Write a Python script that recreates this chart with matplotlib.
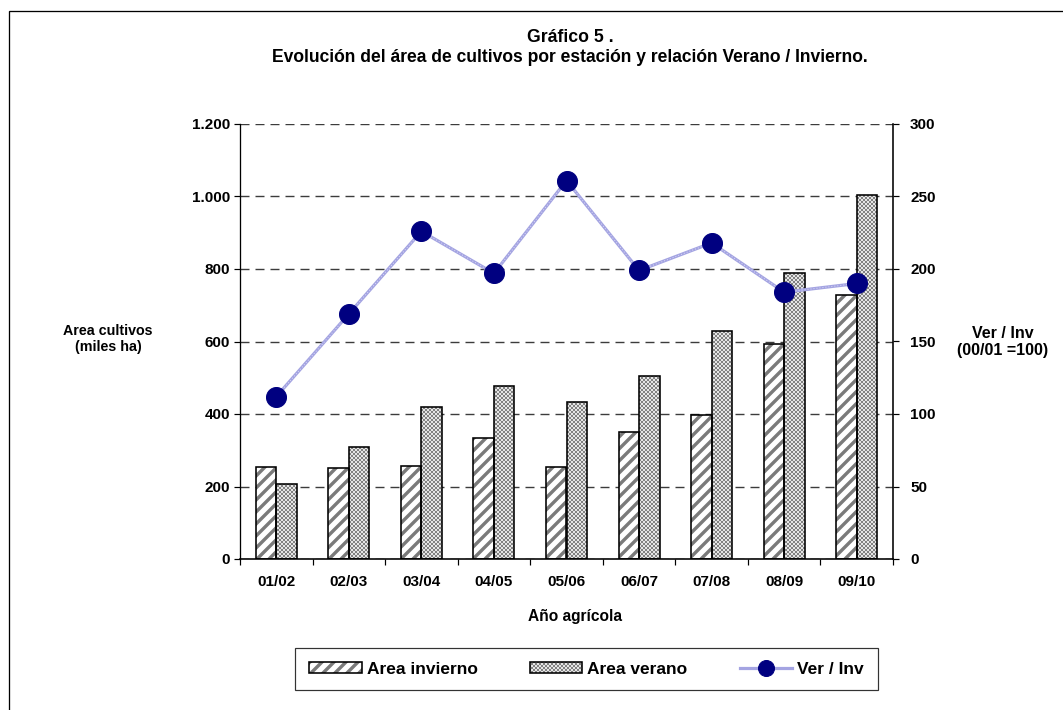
import matplotlib
matplotlib.use("Agg")
import matplotlib.pyplot as plt
from matplotlib.patches import Rectangle
from matplotlib.lines import Line2D
from matplotlib.legend_handler import HandlerTuple
from matplotlib.ticker import FuncFormatter, FixedLocator
import numpy as np

# dpi 72 -> 1 pt == 1 px, so every size below is given in pixels
DPI = 72
plt.rcParams['font.family'] = ['Liberation Sans', 'DejaVu Sans']
plt.rcParams['font.weight'] = 'bold'
plt.rcParams['lines.scale_dashes'] = False

categories = ["01/02", "02/03", "03/04", "04/05", "05/06", "06/07", "07/08", "08/09", "09/10"]
area_invierno = [253, 252, 257, 334, 255, 351, 398, 592, 728]
area_verano = [206, 308, 420, 476, 432, 506, 629, 788, 1005]
ver_inv = [112, 169, 226, 197, 261, 199, 218, 184, 190]

W, H = 1063, 710
fig = plt.figure(figsize=(W / DPI, H / DPI), dpi=DPI)

# outer border (right/bottom run off the image)
fig.patches.append(Rectangle((9 / W, -0.05), 1.1, 1 - 11 / H + 0.05, transform=fig.transFigure,
                             fill=False, edgecolor='black', linewidth=1.3))

ax = fig.add_axes([240 / W, 1 - 559 / H, (893 - 240) / W, (559 - 124) / H])
x = np.arange(len(categories))
bw = 0.283

STRIPE = '#7a7a7a'
CROSS = '#828282'
STRIPE_LW = 3.4
CROSS_LW = 0.9


def hatched_bars(xpos, vals, hatch, hcol, hlw):
    plt.rcParams['hatch.linewidth'] = hlw
    fill = ax.bar(xpos, vals, bw, facecolor='white', edgecolor=hcol, hatch=hatch, linewidth=0, zorder=2)
    for p in fill:
        if hasattr(p, 'set_hatch_linewidth'):
            p.set_hatch_linewidth(hlw)
    outline = ax.bar(xpos, vals, bw, facecolor='none', edgecolor='black', linewidth=1.6, zorder=3)
    return fill, outline


inv_fill, inv_out = hatched_bars(x - bw / 2, area_invierno, '//', STRIPE, STRIPE_LW)
ver_fill, ver_out = hatched_bars(x + bw / 2, area_verano, 'xxxxxx', CROSS, CROSS_LW)

ax.set_xlim(-0.5, len(categories) - 0.5)
ax.set_ylim(0, 1200)
ax.set_yticks(range(0, 1201, 200))
ax.yaxis.set_major_formatter(FuncFormatter(lambda v, p: f"{int(v):,}".replace(",", ".")))
ax.yaxis.grid(True, linestyle=(0, (9, 6)), color='#3c3c3c', linewidth=1.4)
ax.set_axisbelow(True)

ax.set_xticks(x)
ax.set_xticklabels(categories)
ax.tick_params(axis='x', which='major', length=0, pad=16, labelsize=15.3)
ax.xaxis.set_minor_locator(FixedLocator(np.arange(-0.5, len(categories), 1.0)))
ax.tick_params(axis='x', which='minor', length=6, direction='out', width=1.2)
ax.tick_params(axis='y', length=6, direction='out', width=1.2, labelsize=15.3, pad=4)
ax.spines['top'].set_visible(False)
ax.spines['right'].set_visible(False)
ax.spines['left'].set_linewidth(1.3)
ax.spines['bottom'].set_linewidth(1.6)

ax2 = ax.twinx()
ax2.set_ylim(0, 300)
ax2.set_yticks(range(0, 301, 50))
ax2.tick_params(axis='y', length=6, direction='out', width=1.2, labelsize=15.3, pad=11)
ax2.spines['top'].set_visible(False)
ax2.spines['left'].set_visible(False)
ax2.spines['bottom'].set_visible(False)
ax2.spines['right'].set_linewidth(1.6)
LINE_C = '#a4a4e2'
ax2.plot(x, ver_inv, color=LINE_C, linewidth=3.2, zorder=4)
ax2.plot(x, ver_inv, color='white', linewidth=1.0, linestyle=(0, (1, 2)), alpha=0.6, zorder=4)
ax2.plot(x, ver_inv, linestyle='none', marker='o', markersize=20, color='#000080', zorder=5)

for t in ax.get_yticklabels() + ax.get_xticklabels() + ax2.get_yticklabels():
    t.set_fontweight('bold')

fig.text(570 / W, 1 - 37 / H, "Gráfico 5 .", ha='center', va='center', fontsize=17.6, fontweight='bold')
fig.text(570 / W, 1 - 57 / H, "Evolución del área de cultivos por estación y relación Verano / Invierno.",
         ha='center', va='center', fontsize=17.5, fontweight='bold')
fig.text(108 / W, 1 - 339 / H, "Area cultivos\n(miles ha)", ha='center', va='center', fontsize=14.2,
         fontweight='bold', linespacing=1.15)
fig.text(1003 / W, 1 - 342 / H, "Ver / Inv\n(00/01 =100)", ha='center', va='center', fontsize=16,
         fontweight='bold', linespacing=1.15)
fig.text(575 / W, 1 - 616 / H, "Año agrícola", ha='center', va='center', fontsize=15.5, fontweight='bold')

# legend
line_handle = Line2D([0], [0], color=LINE_C, linewidth=3.2, marker='o', markersize=16,
                     markerfacecolor='#000080', markeredgecolor='#000080')
handles = [(inv_fill, inv_out), (ver_fill, ver_out), line_handle]
leg = fig.legend(handles, ["Area invierno", "Area verano", "Ver / Inv"], loc='center',
                 bbox_to_anchor=(586.5 / W, 1 - 669 / H), ncol=3, frameon=True, fancybox=False,
                 edgecolor='black', prop={'weight': 'bold', 'size': 17.4},
                 handler_map={tuple: HandlerTuple(ndivide=1, pad=0)},
                 handlelength=3.0, handleheight=0.6, handletextpad=0.3, columnspacing=3.0,
                 borderpad=0.8, borderaxespad=0)
leg.get_frame().set_linewidth(1.2)
lh = leg.legend_handles
if hasattr(lh[0], 'set_hatch_linewidth'):
    lh[0].set_hatch_linewidth(STRIPE_LW)
    lh[1].set_hatch_linewidth(CROSS_LW)

fig.savefig("out.png", dpi=DPI)
